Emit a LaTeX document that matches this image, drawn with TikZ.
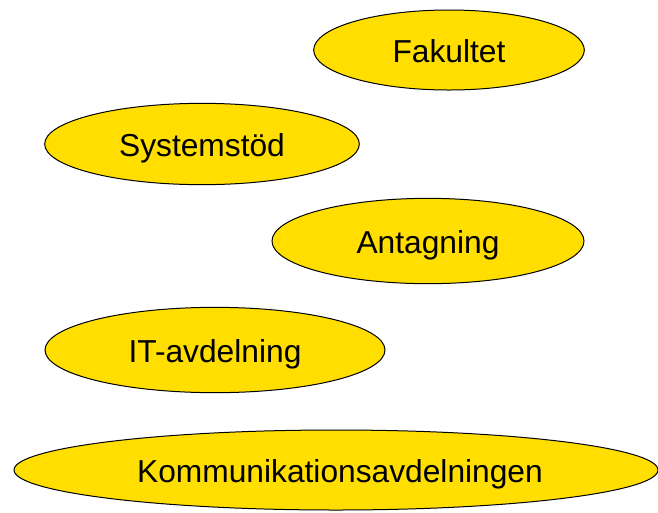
\documentclass[tikz,border=0pt]{standalone}
\usepackage{fontspec}
\setmainfont{Liberation Sans}
\usetikzlibrary{shapes.geometric}
\definecolor{ovalyellow}{RGB}{255,222,0}

\tikzset{every picture/.style={line width=0.75pt}}
\tikzset{oval/.style={ellipse,draw=black,fill=ovalyellow,inner sep=0pt,text height=22pt,text depth=3pt,font=\fontsize{23.8}{28}\selectfont}}

\begin{document}
\begin{tikzpicture}[x=0.75pt,y=0.75pt,yscale=-1,xscale=1]
\useasboundingbox (0,0) rectangle (658,512);

%Ellipses
\node [oval,minimum width=203pt,minimum height=60pt] (fakultet) at (449,50) {Fakultet};
\node [oval,minimum width=236pt,minimum height=61pt] (systemstod) at (202,144) {Systemstöd};
\node [oval,minimum width=234pt,minimum height=64pt] (antagning) at (428,241) {Antagning};
\node [oval,minimum width=255pt,minimum height=64pt] (itavd) at (215,350) {IT-avdelning};
\node [oval,minimum width=483pt,minimum height=60pt] (kommavd) at (336,470) {\hspace{6pt}Kommunikationsavdelningen};

\end{tikzpicture}
\end{document}
